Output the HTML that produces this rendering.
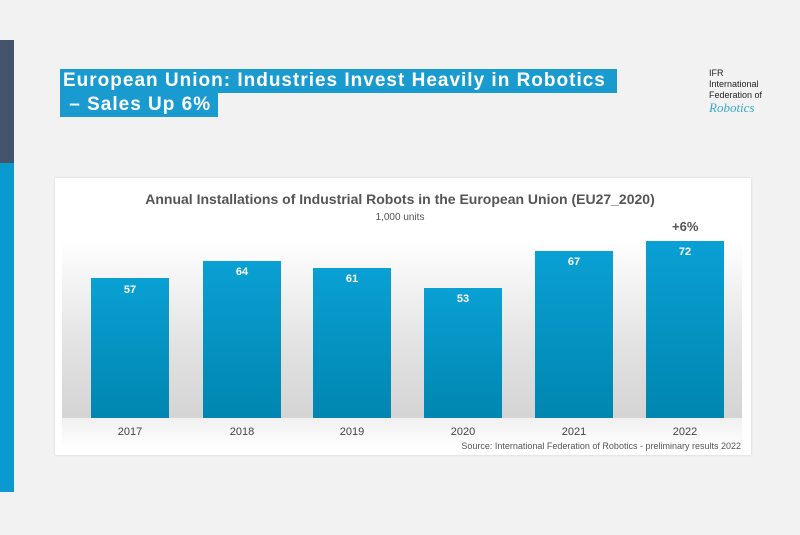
<!DOCTYPE html>
<html><head><style>
body{margin:0;width:800px;height:535px;background:#f2f2f2;position:relative;overflow:hidden;font-family:"Liberation Sans",Arial,sans-serif;}
.a{position:absolute}
.t{position:absolute;background:#1a9bd0;color:#fff;font-weight:bold;font-size:19px;line-height:24px;padding:0 3px;white-space:nowrap;letter-spacing:1px}
.bar{position:absolute;width:78px;background:linear-gradient(#0aa0d4,#0086b0);bottom:117px}
.v{position:absolute;width:78px;text-align:center;color:#fff;font-weight:bold;font-size:11px}
.y{position:absolute;width:78px;text-align:center;color:#444;font-size:11px;top:426px}
</style></head><body>
<div class="a" style="left:0;top:40px;width:14px;height:123px;background:#44546a"></div>
<div class="a" style="left:0;top:163px;width:14px;height:329px;background:#0a9ad0"></div>
<div class="t" style="left:60px;top:69px;width:551px">European Union: Industries Invest Heavily in Robotics</div>
<div class="t" style="left:60px;top:93px;width:152px">&nbsp;– Sales Up 6%</div>
<div class="a" style="left:709px;top:68px;font-size:9px;line-height:11px;color:#222">IFR<br>International<br>Federation of</div>
<div class="a" style="left:709px;top:100px;font-size:13px;font-style:italic;color:#3aa8c8;font-family:'Liberation Serif',serif">Robotics</div>
<div class="a" style="left:55px;top:178px;width:696px;height:277px;background:#fff;box-shadow:0 0 2px #ccc"></div>
<div class="a" style="left:62px;top:240px;width:680px;height:178px;background:linear-gradient(#fff,#e2e2e2 60%,#d4d4d4)"></div>
<div class="a" style="left:62px;top:418px;width:680px;height:30px;background:linear-gradient(#f0f0f0,#fff)"></div>
<div class="a" style="left:0;width:800px;top:191px;text-align:center;font-size:14px;font-weight:bold;color:#555">Annual Installations of Industrial Robots in the European Union (EU27_2020)</div>
<div class="a" style="left:0;width:800px;top:212px;text-align:center;font-size:10px;color:#555">1,000 units</div>
<div class="a" style="left:672px;top:219px;font-size:13px;font-weight:bold;color:#555">+6%</div>
<div class="bar" style="left:91px;height:140px"></div><div class="v" style="left:91px;top:284px">57</div><div class="y" style="left:91px">2017</div>
<div class="bar" style="left:203px;height:157px"></div><div class="v" style="left:203px;top:266px">64</div><div class="y" style="left:203px">2018</div>
<div class="bar" style="left:313px;height:150px"></div><div class="v" style="left:313px;top:273px">61</div><div class="y" style="left:313px">2019</div>
<div class="bar" style="left:424px;height:130px"></div><div class="v" style="left:424px;top:293px">53</div><div class="y" style="left:424px">2020</div>
<div class="bar" style="left:535px;height:167px"></div><div class="v" style="left:535px;top:256px">67</div><div class="y" style="left:535px">2021</div>
<div class="bar" style="left:646px;height:177px"></div><div class="v" style="left:646px;top:246px">72</div><div class="y" style="left:646px">2022</div>
<div class="a" style="right:59px;top:441px;font-size:9px;color:#555">Source: International Federation of Robotics - preliminary results 2022</div>
</body></html>
